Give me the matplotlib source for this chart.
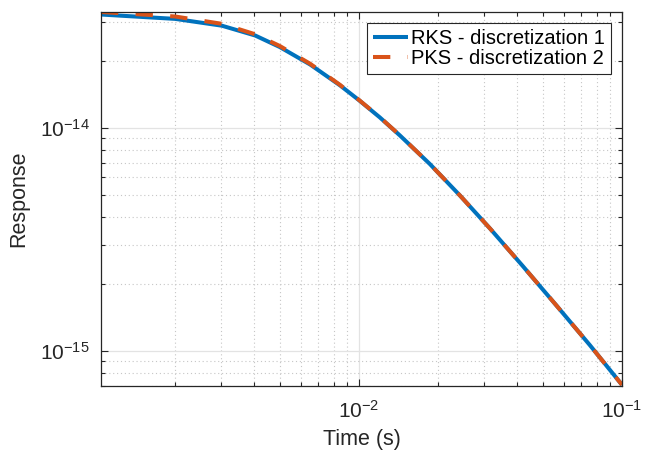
import matplotlib
matplotlib.use("Agg")
import matplotlib.pyplot as plt
from matplotlib.ticker import LogLocator, NullFormatter, FixedLocator, LogFormatterSciNotation

plt.rcParams["font.family"] = ["Liberation Sans", "DejaVu Sans"]
plt.rcParams["mathtext.fontset"] = "custom"
plt.rcParams["mathtext.rm"] = "Liberation Sans"
plt.rcParams["mathtext.it"] = "Liberation Sans:italic"
plt.rcParams["mathtext.bf"] = "Liberation Sans:bold"

# Time samples (s) and responses of the two discretizations
time_s = [1.045e-3, 2.0e-3, 3.01e-3, 4.03e-3, 5.0e-3, 6.52e-3, 8.47e-3, 1.0e-2,
          1.20e-2, 1.43e-2, 1.86e-2, 2.42e-2, 3.15e-2, 4.20e-2, 5.66e-2, 7.55e-2, 1.0e-1]
rks_resp = [3.225e-14, 3.083e-14, 2.874e-14, 2.597e-14, 2.305e-14, 1.925e-14, 1.552e-14, 1.332e-14,
            1.115e-14, 9.26e-15, 6.89e-15, 4.98e-15, 3.54e-15, 2.40e-15, 1.589e-15, 1.062e-15, 7.05e-16]
pks_resp = [3.31e-14, 3.16e-14, 2.93e-14, 2.63e-14, 2.33e-14, 1.94e-14, 1.56e-14, 1.335e-14,
            1.117e-14, 9.27e-15, 6.89e-15, 4.98e-15, 3.54e-15, 2.40e-15, 1.589e-15, 1.062e-15, 7.05e-16]

labels = ["RKS - discretization 1", "PKS - discretization 2"]
x_major = [1e-2, 1e-1]
y_major = [1e-15, 1e-14]
colors = ["#0072BD", "#D95319"]
axis_color = "#262626"

fig = plt.figure(figsize=(6.47, 4.51), dpi=100)
ax = fig.add_axes([0.1561, 0.1441, 0.8053, 0.8293])

ax.loglog(time_s, rks_resp, color=colors[0], lw=2.9, label=labels[0], solid_capstyle="butt")
ax.loglog(time_s, pks_resp, color=colors[1], lw=2.9, dashes=(4.3, 4.3), label=labels[1],
          dash_capstyle="butt")

ax.set_xlim(1.045e-3, 1e-1)
ax.set_ylim(6.97e-16, 3.31e-14)

ax.xaxis.set_major_locator(FixedLocator(x_major))
ax.yaxis.set_major_locator(FixedLocator(y_major))
ax.xaxis.set_major_formatter(LogFormatterSciNotation())
ax.yaxis.set_major_formatter(LogFormatterSciNotation())
ax.xaxis.set_minor_locator(LogLocator(base=10, subs=range(2, 10), numticks=20))
ax.yaxis.set_minor_locator(LogLocator(base=10, subs=range(2, 10), numticks=20))
ax.xaxis.set_minor_formatter(NullFormatter())
ax.yaxis.set_minor_formatter(NullFormatter())

ax.grid(True, which="major", color="#e3e3e3", lw=0.9, ls="-")
ax.grid(True, which="minor", color="#c6c6c6", lw=0.8, ls=(0, (1, 2.5)))
ax.set_axisbelow(True)

for sp in ax.spines.values():
    sp.set_color(axis_color)
    sp.set_linewidth(0.9)

ax.tick_params(which="both", direction="in", top=True, right=True, colors=axis_color,
               labelcolor="#262626", width=0.8)
ax.tick_params(which="major", length=5, labelsize=15)
ax.tick_params(axis="x", which="major", pad=10)
ax.tick_params(axis="y", which="major", pad=8)
ax.tick_params(which="minor", length=3)

ax.set_xlabel("Time (s)", fontsize=15.5, color="#262626", labelpad=5)
ax.set_ylabel("Response", fontsize=15.5, color="#262626", labelpad=8)

leg = ax.legend(loc="upper right", fontsize=14.5, frameon=True, fancybox=False,
                edgecolor=axis_color, framealpha=1, handlelength=1.75, handletextpad=0.15,
                borderpad=0.3, labelspacing=0.05, borderaxespad=0.55)
leg.get_frame().set_linewidth(0.8)

fig.savefig("out.png", dpi=100)
